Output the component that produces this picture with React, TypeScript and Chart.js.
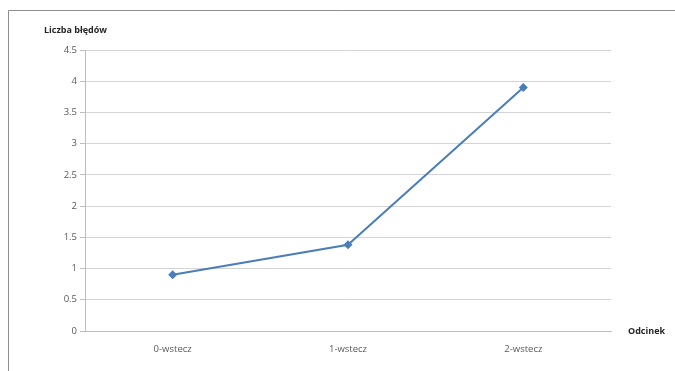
import React, { useEffect, useRef } from "react";
import { Chart, registerables } from "chart.js";

Chart.register(...registerables);

const categories: string[] = ["0-wstecz", "1-wstecz", "2-wstecz"];
const errorCounts: number[] = [0.9, 1.38, 3.9];
const yAxisTitle = "Liczba błędów";
const xAxisTitle = "Odcinek";

const FONT = "'Open Sans', 'Liberation Sans', sans-serif";

// Outer frame plus the two bold axis captions
const decorations = {
  id: "decorations",
  beforeDraw(chart: any) {
    const { ctx } = chart;
    ctx.save();
    ctx.fillStyle = "#ffffff";
    ctx.fillRect(0, 0, chart.width, chart.height);
    ctx.strokeStyle = "#8e8e8e";
    ctx.lineWidth = 1;
    ctx.beginPath();
    ctx.moveTo(8.5, chart.height + 2);
    ctx.lineTo(8.5, 10.5);
    ctx.lineTo(chart.width + 2, 10.5);
    ctx.stroke();
    ctx.restore();
  },
  afterDraw(chart: any) {
    const { ctx, chartArea } = chart;
    ctx.save();
    ctx.fillStyle = "#262626";
    ctx.font = `bold 9px ${FONT}`;
    ctx.textBaseline = "middle";
    ctx.textAlign = "left";
    ctx.fillText(yAxisTitle, chartArea.left - 41, chartArea.top - 20);
    ctx.fillText(xAxisTitle, chartArea.right + 17, chartArea.bottom);
    ctx.restore();
  },
};

export default function App() {
  const canvasRef = useRef<HTMLCanvasElement | null>(null);

  useEffect(() => {
    document.body.style.margin = "0";
    const canvas = canvasRef.current;
    if (!canvas) return;
    const chart = new Chart(canvas, {
      type: "line",
      data: {
        labels: categories,
        datasets: [
          {
            data: errorCounts,
            borderColor: "#4a7ebb",
            backgroundColor: "#4a7ebb",
            borderWidth: 2,
            pointStyle: "rectRot",
            pointRadius: 4.5,
            pointBorderWidth: 0,
            tension: 0,
          },
        ],
      },
      options: {
        animation: false,
        responsive: false,
        devicePixelRatio: 1,
        layout: { padding: { top: 50, right: 64, bottom: 10, left: 0 } },
        plugins: {
          legend: { display: false },
          tooltip: { enabled: false },
          title: { display: false },
        },
        scales: {
          x: {
            offset: true,
            grid: { display: false },
            border: { display: true, color: "#bdbdbd", width: 1 },
            ticks: {
              color: "#595959",
              font: { family: FONT, size: 9.5 },
              padding: 5,
            },
            afterFit(scale: any) {
              scale.height = 30;
            },
          },
          y: {
            min: 0,
            max: 4.5,
            ticks: {
              stepSize: 0.5,
              color: "#595959",
              font: { family: FONT, size: 9.5 },
              padding: 3,
              callback: (value: any) => String(value),
            },
            grid: {
              color: "#d4d4d4",
              lineWidth: 1,
              tickLength: 5,
              tickColor: "#bdbdbd",
            },
            border: { display: true, color: "#bdbdbd", width: 1 },
            afterFit(scale: any) {
              scale.width = 85;
            },
          },
        },
      },
      plugins: [decorations],
    });
    return () => chart.destroy();
  }, []);

  return (
    <div style={{ position: "absolute", left: 0, top: 0, width: 675, height: 371 }}>
      <canvas ref={canvasRef} width={675} height={371} style={{ display: "block" }} />
    </div>
  );
}
